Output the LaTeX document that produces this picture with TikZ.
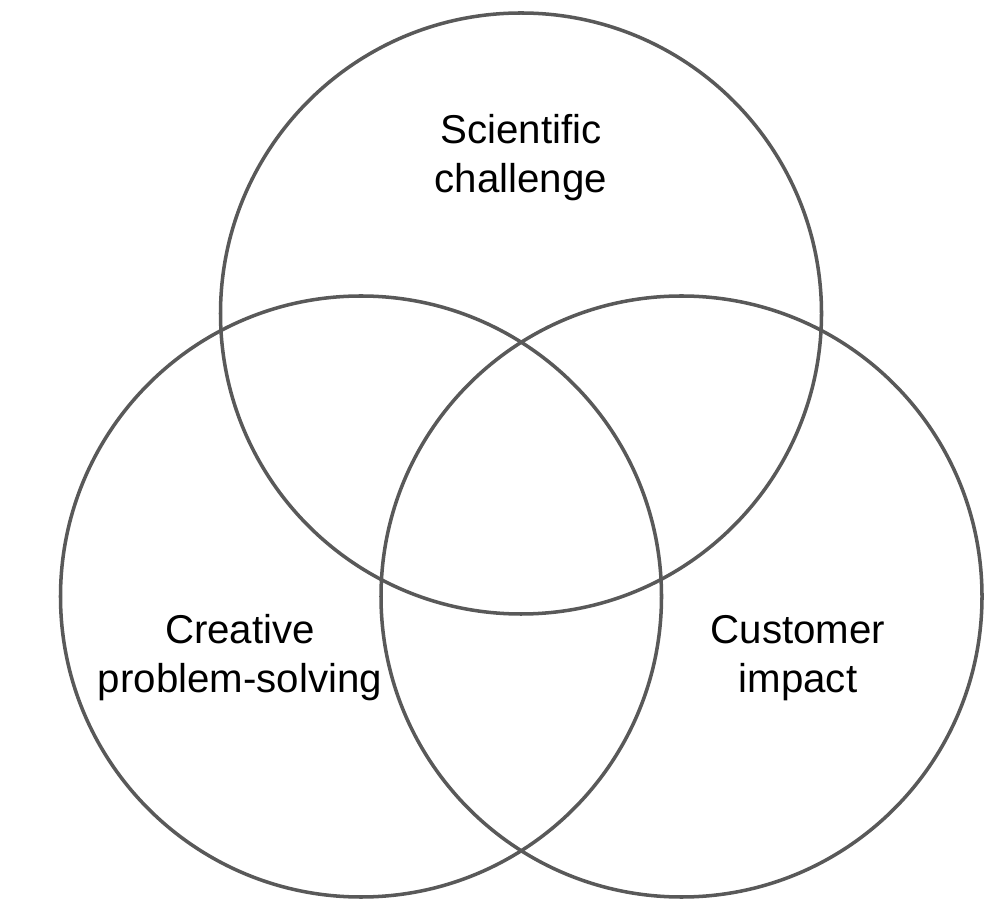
\documentclass[tikz,border=0pt]{standalone}
\usepackage{fontspec}
\setmainfont{Liberation Sans}
\usetikzlibrary{positioning}
\definecolor{ringgray}{HTML}{595959}

\tikzset{
  ring/.style={circle, draw=ringgray, line width=2pt, inner sep=0pt, minimum size=12.02cm},
  lbl/.style={align=center, font=\fontsize{22.9}{27.9}\selectfont}
}

\begin{document}
\begin{tikzpicture}
  \useasboundingbox (0,0) rectangle (20.12,18.24);

  \node[ring] (sci) at (10.42,11.97) {};
  \node[ring] (cre) at (7.22,6.31) {};
  \node[ring] (cus) at (13.63,6.31) {};

  \node[lbl] (scitext) at (10.42,15.08) {Scientific\\challenge};
  \node[lbl] (cretext) at (4.80,5.08) {Creative\\problem-solving};
  \node[lbl] (custext) at (15.96,5.08) {Customer\\impact};
\end{tikzpicture}
\end{document}
